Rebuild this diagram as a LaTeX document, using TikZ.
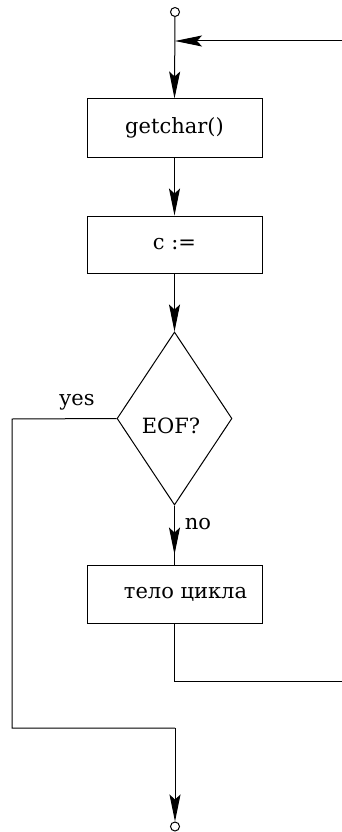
\documentclass[tikz,border=0pt]{standalone}
\usepackage{fontspec}
\newfontfamily\dvserif{DejaVu Serif}
\usetikzlibrary{shapes.geometric,arrows.meta,calc}
\begin{document}
\begin{tikzpicture}[x=1pt,y=-1pt,
  every node/.style={font=\dvserif\fontsize{21}{25}\selectfont},
  line/.style={draw=black,line width=1pt},
  arr/.style={line,-{Stealth[length=27pt,width=11pt,inset=5pt]}},
  boxnode/.style={draw,line width=1pt,minimum width=175pt,minimum height=58pt,inner sep=0pt},
  term/.style={draw,circle,line width=1pt,minimum size=9pt,inner sep=0pt},
  dnode/.style={draw,diamond,line width=1pt,minimum width=115pt,minimum height=173pt,inner sep=0pt}]
\useasboundingbox (0,0) rectangle (342,832);
\node[term] (start) at (175,12) {};
\node[boxnode] (b1) at (174.5,128) {getchar()};
\node[boxnode,minimum height=57pt] (b2) at (174.5,244.5) {c :=};
\node[dnode] (d) at (174.5,418.5) {};
\node (dt) at (171,426) {EOF?};
\node[boxnode] (b3) at (174.5,594) {};
\node (b3t) at (185.5,594) {тело цикла};
\node[term] (stop) at (175,826.5) {};
\node (yes) at (77,402) {yes};
\node (no) at (198,524) {no};
\coordinate (loopin) at (342,41);
\coordinate (loopout) at (342,681);
\coordinate (yescorner) at (12,419);
\coordinate (yesbottom) at (12,728);
\coordinate (joinb) at (175,728);
% main flow
\draw[arr] (start) -- (b1.north);
\draw[arr] (b1) -- (b2);
\draw[arr] (b2) -- (d.north);
\draw[line] (d.south) -- (b3.north);
\draw[arr] (d.south) -- ($(b3.north)+(0,-10)$);
% loop back
\draw[arr] (loopin) -- (start.south |- loopin);
\draw[line] (b3.south) |- (loopout);
% yes branch
\draw[line] (d.west) -- (yescorner) -- (yesbottom) -- (joinb);
\draw[arr] (joinb) -- (stop.north);
\end{tikzpicture}
\end{document}
